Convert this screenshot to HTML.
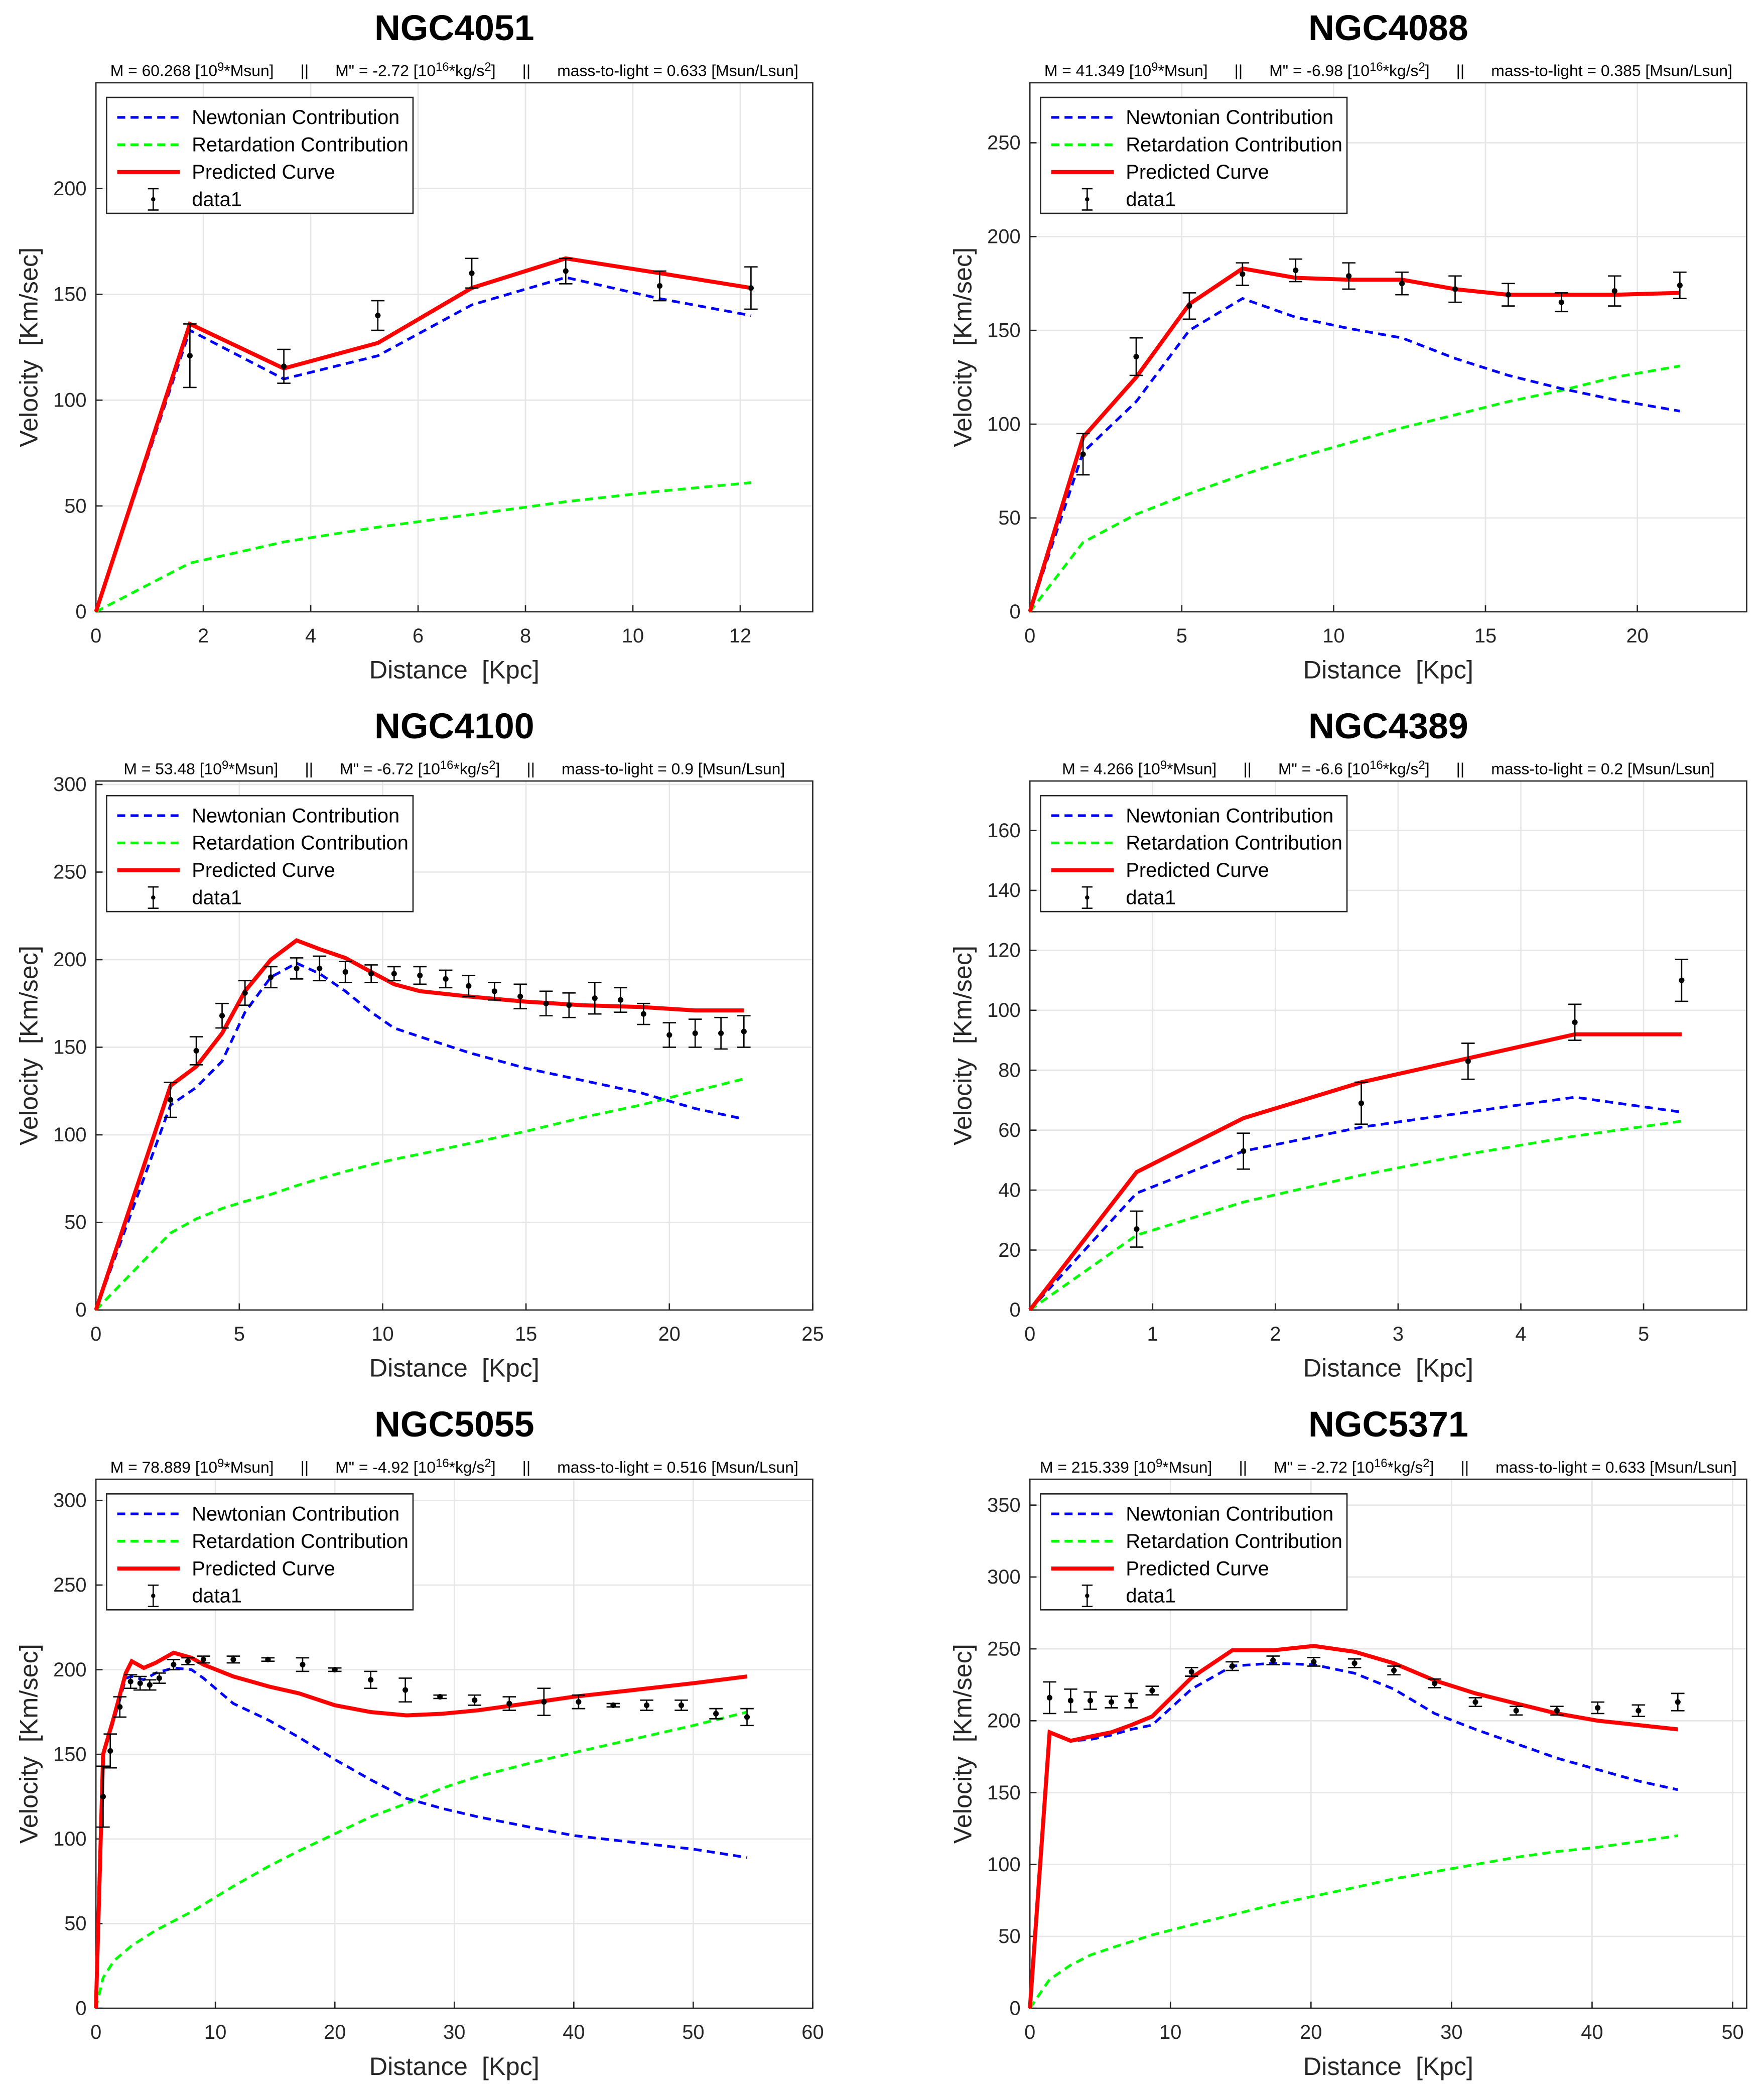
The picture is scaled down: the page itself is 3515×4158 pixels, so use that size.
<!DOCTYPE html>
<html><head><meta charset="utf-8"><style>
html,body{margin:0;padding:0;background:#fff;}
svg{display:block;font-family:"Liberation Sans",Arial,sans-serif;}
svg text{white-space:pre;}
</style></head><body>
<svg id="fig" xmlns="http://www.w3.org/2000/svg" width="3515" height="4158" viewBox="0 0 1324 1566"></svg>
<script>
// ---- Data: NGC4051
const p1Title="NGC4051";
const p1Sub=["60.268","-2.72","0.633"];
const p1NX=[0,1.75,3.5,5.25,7,8.75,10.5,12.2];
const p1Newton=[0,133,110,121,145,158,148,140];
const p1Pred=[0,136,115,127,153,167,160,153];
const p1Ret=[0,23,33,40,46,52,57,61];
const p1DX=[1.75,3.5,5.25,7,8.75,10.5,12.2];
const p1DY=[121,116,140,160,161,154,153];
const p1DE=[15,8,7,7,6,7,10];
// ---- NGC4088
const p2Title="NGC4088";
const p2Sub=["41.349","-6.98","0.385"];
const p2NX=[0,1.75,3.5,5.25,7,8.75,10.5,12.25,14,15.75,17.5,19.25,21.4];
const p2Newton=[0,85,112,150,167,157,151,146,135,126,119,113,107];
const p2Pred=[0,93,125,164,183,178,177,177,172,169,169,169,170];
const p2Ret=[0,37,52,63,73,82,90,98,105,112,118,125,131];
const p2DX=[1.75,3.5,5.25,7,8.75,10.5,12.25,14,15.75,17.5,19.25,21.4];
const p2DY=[84,136,163,180,182,179,175,172,169,165,171,174];
const p2DE=[11,10,7,6,6,7,6,7,6,5,8,7];
// ---- NGC4100
const p3Title="NGC4100";
const p3Sub=["53.48","-6.72","0.9"];
const p3NX=[0,2.6,3.5,4.4,5.2,6.1,7,7.8,8.7,9.6,10.4,11.3,13,15,17,19,20.9,22.6];
const p3Newton=[0,117,127,142,170,190,198,192,182,170,161,156,147,138,131,124,115,109];
const p3Pred=[0,128,139,158,182,200,211,206,201,193,186,182,179,176,174,173,171,171];
const p3Ret=[0,44,52,58,62,66,71,75,79,83,86,89,95,102,110,117,125,132];
const p3DX=[2.6,3.5,4.4,5.2,6.1,7,7.8,8.7,9.6,10.4,11.3,12.2,13,13.9,14.8,15.7,16.5,17.4,18.3,19.1,20,20.9,21.8,22.6];
const p3DY=[120,148,168,181,190,195,195,193,192,192,191,189,185,182,179,175,174,178,177,169,157,158,158,159];
const p3DE=[10,8,7,7,6,6,7,6,5,4,5,5,6,5,7,7,7,9,7,6,7,8,9,9];
// ---- NGC4389
const p4Title="NGC4389";
const p4Sub=["4.266","-6.6","0.2"];
const p4NX=[0,0.87,1.74,2.7,3.57,4.44,5.31];
const p4Newton=[0,39,53,61,66,71,66];
const p4Pred=[0,46,64,76,84,92,92];
const p4Ret=[0,25,36,45,52,58,63];
const p4DX=[0.87,1.74,2.7,3.57,4.44,5.31];
const p4DY=[27,53,69,83,96,110];
const p4DE=[6,6,7,6,6,7];
// ---- NGC5055
const p5Title="NGC5055";
const p5Sub=["78.889","-4.92","0.516"];
const p5NX=[0,0.6,1.5,2.5,3,4,5,6.5,8,9,11.5,14.5,17,20,23,26,29,32,37,40,45,50,54.5];
const p5Newton=[0,150,170,195,196,194,198,201,200,195,180,170,160,147,135,124,118,113,106,102,98,94,89];
const p5Pred=[0,150,172,198,205,201,204,210,207,203,196,190,186,179,175,173,174,176,181,184,188,192,196];
const p5RX=[0,0.6,1.5,3,5,8,11.5,14.5,17,20,23,26,29,32,37,40,45,50,54.5];
const p5Ret=[0,18,28,37,46,57,72,84,93,103,113,121,130,137,146,151,159,167,175];
const p5DX=[0.6,1.2,2,2.9,3.7,4.5,5.3,6.5,7.7,9,11.5,14.4,17.3,20,23,25.9,28.8,31.7,34.6,37.5,40.4,43.3,46.1,49,51.9,54.5];
const p5DY=[125,152,178,193,192,191,195,203,205,206,206,206,203,200,194,188,184,182,180,181,181,179,179,179,174,172];
const p5DE=[18,10,6,4,4,3,3,3,2,2,2,1,4,1,5,7,1,3,4,8,4,1,3,3,3,5];
// ---- NGC5371
const p6Title="NGC5371";
const p6Sub=["215.339","-2.72","0.633"];
const p6NX=[0,1.4,2.9,4.3,5.8,7.2,8.7,11.5,14.4,17.3,20.2,23.1,25.9,28.8,31.7,34.6,37.5,40.4,43.3,46.1];
const p6Newton=[0,192,186,187,190,194,197,222,238,240,239,233,222,205,194,184,174,166,158,152];
const p6Pred=[0,192,186,189,192,197,203,230,249,249,252,248,240,228,219,212,205,200,197,194];
const p6RX=[0,1.4,2.9,4.3,5.8,8.7,11.5,14.4,17.3,20.2,23.1,25.9,28.8,31.7,34.6,37.5,40.4,43.3,46.1];
const p6Ret=[0,20,30,37,42,51,58,65,72,78,84,90,95,100,105,109,112,116,120];
const p6DX=[1.4,2.9,4.3,5.8,7.2,8.7,11.5,14.4,17.3,20.2,23.1,25.9,28.8,31.7,34.6,37.5,40.4,43.3,46.1];
const p6DY=[216,214,214,213,214,221,234,238,242,241,240,235,226,213,207,207,209,207,213];
const p6DE=[11,8,6,4,5,3,3,3,3,3,3,3,3,3,3,3,4,4,6];

const NS="http://www.w3.org/2000/svg";
const svg=document.getElementById('fig');
function el(tag,attrs,parent,text){const e=document.createElementNS(NS,tag);for(const k in attrs)e.setAttribute(k,attrs[k]);if(text!==undefined)e.textContent=text;(parent||svg).appendChild(e);return e;}
function panel(o){
  const g=el('g',{});
  
  
  const L=o.x0,R=o.x0+538,T=o.y0,B=o.y0+397;
  const sx=v=>L+(v-0)/(o.xmax)*(R-L);
  const sy=v=>B-v/o.ymax*(B-T);
  el('rect',{x:L,y:T,width:R-L,height:B-T,fill:'#fff'},g);
  o.xt.forEach(t=>{el('line',{x1:sx(t),x2:sx(t),y1:T,y2:B,stroke:'#e6e6e6','stroke-width':1},g);});
  o.yt.forEach(t=>{el('line',{x1:L,x2:R,y1:sy(t),y2:sy(t),stroke:'#e6e6e6','stroke-width':1},g);});
  o.xt.forEach(t=>{el('line',{x1:sx(t),x2:sx(t),y1:B,y2:B-5,stroke:'#262626'},g);
    const tl=el('text',{x:sx(t),y:B+23,'font-size':15,'text-anchor':'middle',fill:'#262626'},g,String(t));
    });
  o.yt.forEach(t=>{el('line',{x1:L,x2:L+5,y1:sy(t),y2:sy(t),stroke:'#262626'},g);
    const tl=el('text',{x:L-7,y:sy(t)+5,'font-size':15,'text-anchor':'end',fill:'#262626'},g,String(t));
    });
  el('rect',{x:L,y:T,width:R-L,height:B-T,fill:'none',stroke:'#262626','stroke-width':1},g);
  const path=(xs,ys)=>xs.map((x,i)=>(i?'L':'M')+sx(x).toFixed(1)+','+sy(ys[i]).toFixed(1)).join(' ');
  const pr=el('path',{d:path(o.rx||o.nx,o.ret),fill:'none',stroke:'#00ff00','stroke-width':2,'stroke-dasharray':'6,4'},g);
  
  const pn=el('path',{d:path(o.nx,o.newton),fill:'none',stroke:'#0000ff','stroke-width':2,'stroke-dasharray':'6,4'},g);
  
  const pp=el('path',{d:path(o.nx,o.pred),fill:'none',stroke:'#ff0000','stroke-width':3},g);
  
  o.dx.forEach((x,i)=>{
    const dg=el('g',{stroke:'#000','stroke-width':1},g);
    
    const X=sx(x),y1=sy(o.dy[i]-o.de[i]),y2=sy(o.dy[i]+o.de[i]);
    el('line',{x1:X,x2:X,y1:y1,y2:y2},dg);
    el('line',{x1:X-5,x2:X+5,y1:y1,y2:y1},dg);
    el('line',{x1:X-5,x2:X+5,y1:y2,y2:y2},dg);
    el('circle',{cx:X,cy:sy(o.dy[i]),r:1.6,fill:'#000'},dg);
  });
  const lg=el('g',{},g);
  
  el('rect',{x:L+8,y:T+11,width:230,height:87,fill:'#fff',stroke:'#262626','stroke-width':1},lg);
  const items=[['Newtonian Contribution','#0000ff','6,4',2],['Retardation Contribution','#00ff00','6,4',2],['Predicted Curve','#ff0000','',3],['data1','','',0]];
  items.forEach((it,i)=>{const yy=T+26+i*20.5;
    if(it[1]){el('line',{x1:L+16,x2:L+63,y1:yy,y2:yy,stroke:it[1],'stroke-width':it[3],'stroke-dasharray':it[2]||'none'},lg);}
    else{const X=L+43;el('line',{x1:X,x2:X,y1:yy-8,y2:yy+8,stroke:'#000'},lg);el('line',{x1:X-4,x2:X+4,y1:yy-8,y2:yy-8,stroke:'#000'},lg);el('line',{x1:X-4,x2:X+4,y1:yy+8,y2:yy+8,stroke:'#000'},lg);el('circle',{cx:X,cy:yy,r:1.6},lg);}
    const t=el('text',{x:L+72,y:yy+5,'font-size':15,fill:'#000'},lg,it[0]);
    
  });
  const tt=el('text',{x:(L+R)/2,y:T-32,'font-size':27,'font-weight':'bold','text-anchor':'middle',fill:'#000'},g,o.title);
  
  const st=el('text',{x:(L+R)/2,y:T-5,'font-size':12,'text-anchor':'middle',fill:'#000'},g);
  
  st.innerHTML='M = '+o.sub[0]+' [10<tspan dy="-4" font-size="9">9</tspan><tspan dy="4">*Msun]      ||      M" = '+o.sub[1]+' [10</tspan><tspan dy="-4" font-size="9">16</tspan><tspan dy="4">*kg/s</tspan><tspan dy="-4" font-size="9">2</tspan><tspan dy="4">]      ||      mass-to-light = '+o.sub[2]+' [Msun/Lsun]</tspan>';
  const xl=el('text',{x:(L+R)/2,y:B+50,'font-size':19,'text-anchor':'middle',fill:'#262626'},g,'Distance  [Kpc]');
  
  const cy=(T+B)/2;
  const yl=el('text',{x:L-44,y:cy,'font-size':19,'text-anchor':'middle',fill:'#262626',transform:'rotate(-90 '+(L-44)+' '+cy+')'},g,'Velocity  [Km/sec]');
  
}
panel({name:'panel-ngc4051',x0:72,y0:62,xmax:13.35,ymax:250,xt:[0,2,4,6,8,10,12],yt:[0,50,100,150,200],title:p1Title,sub:p1Sub,nx:p1NX,newton:p1Newton,pred:p1Pred,ret:p1Ret,dx:p1DX,dy:p1DY,de:p1DE});
panel({name:'panel-ngc4088',x0:773,y0:62,xmax:23.6,ymax:282,xt:[0,5,10,15,20],yt:[0,50,100,150,200,250],title:p2Title,sub:p2Sub,nx:p2NX,newton:p2Newton,pred:p2Pred,ret:p2Ret,dx:p2DX,dy:p2DY,de:p2DE});
panel({name:'panel-ngc4100',x0:72,y0:586,xmax:25,ymax:302,xt:[0,5,10,15,20,25],yt:[0,50,100,150,200,250,300],title:p3Title,sub:p3Sub,nx:p3NX,newton:p3Newton,pred:p3Pred,ret:p3Ret,dx:p3DX,dy:p3DY,de:p3DE});
panel({name:'panel-ngc4389',x0:773,y0:586,xmax:5.84,ymax:176.5,xt:[0,1,2,3,4,5],yt:[0,20,40,60,80,100,120,140,160],title:p4Title,sub:p4Sub,nx:p4NX,newton:p4Newton,pred:p4Pred,ret:p4Ret,dx:p4DX,dy:p4DY,de:p4DE});
panel({name:'panel-ngc5055',x0:72,y0:1110,xmax:60,ymax:312.5,xt:[0,10,20,30,40,50,60],yt:[0,50,100,150,200,250,300],title:p5Title,sub:p5Sub,nx:p5NX,newton:p5Newton,pred:p5Pred,rx:p5RX,ret:p5Ret,dx:p5DX,dy:p5DY,de:p5DE});
panel({name:'panel-ngc5371',x0:773,y0:1110,xmax:51,ymax:368,xt:[0,10,20,30,40,50],yt:[0,50,100,150,200,250,300,350],title:p6Title,sub:p6Sub,nx:p6NX,newton:p6Newton,pred:p6Pred,rx:p6RX,ret:p6Ret,dx:p6DX,dy:p6DY,de:p6DE});
</script>
</body></html>
